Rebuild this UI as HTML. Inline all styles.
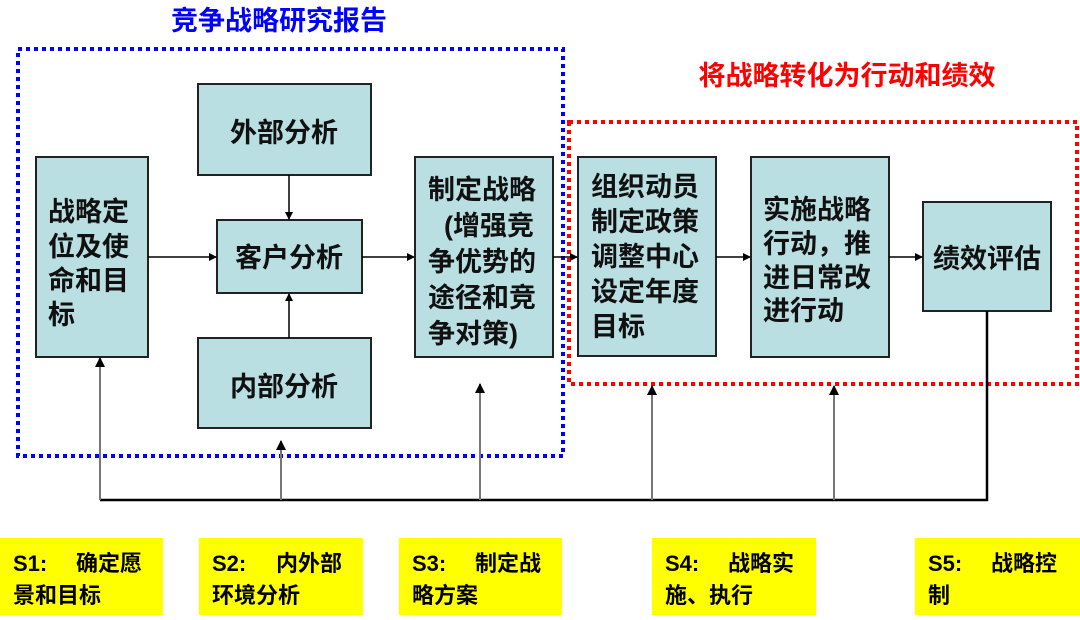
<!DOCTYPE html>
<html><head><meta charset="utf-8"><style>
body{margin:0;background:#fff}
svg text{font-family:"Liberation Sans","Noto Sans CJK SC",sans-serif;font-weight:bold}
</style></head><body>
<svg width="1080" height="615" viewBox="0 0 1080 615" xmlns="http://www.w3.org/2000/svg">
<defs><marker id="a" markerWidth="8" markerHeight="8" refX="7" refY="4" orient="auto" markerUnits="userSpaceOnUse"><path d="M0,0 L8,4 L0,8 z" fill="#000"/></marker>
<marker id="g" markerWidth="10" markerHeight="10" refX="9" refY="5" orient="auto" markerUnits="userSpaceOnUse"><path d="M0,0 L10,5 L0,10 z" fill="#000"/></marker></defs>
<text x="279" y="30" font-size="27" fill="#0000ff" text-anchor="middle">竞争战略研究报告</text>
<text x="847" y="85" font-size="27" fill="#ff0000" text-anchor="middle">将战略转化为行动和绩效</text>
<rect x="18" y="49" width="545" height="407" fill="none" stroke="#0000ff" stroke-width="4" stroke-dasharray="4,4"/>
<rect x="569" y="122" width="508" height="262" fill="none" stroke="#ff0000" stroke-width="4" stroke-dasharray="4,4"/>
<g fill="#b9dfe2" stroke="#222" stroke-width="2">
<rect x="36" y="157" width="112" height="200"/>
<rect x="198" y="84" width="173" height="91"/>
<rect x="217" y="220" width="145" height="73"/>
<rect x="198" y="338" width="173" height="90"/>
<rect x="415" y="157" width="138" height="200"/>
<rect x="578" y="157" width="138" height="199"/>
<rect x="751" y="157" width="138" height="200"/>
<rect x="923" y="202" width="128" height="109"/>
</g>
<g font-size="27" fill="#111">
<text x="48" y="221">战略定</text><text x="48" y="256">位及使</text><text x="48" y="290">命和目</text><text x="48" y="324">标</text>
<text x="284" y="142" text-anchor="middle">外部分析</text>
<text x="289" y="267" text-anchor="middle">客户分析</text>
<text x="284" y="396" text-anchor="middle">内部分析</text>
<text x="428" y="199">制定战略</text><text x="444" y="235">(增强竞</text><text x="428" y="271">争优势的</text><text x="428" y="307">途径和竞</text><text x="428" y="343">争对策)</text>
<text x="591" y="196">组织动员</text><text x="591" y="231">制定政策</text><text x="591" y="266">调整中心</text><text x="591" y="301">设定年度</text><text x="591" y="336">目标</text>
<text x="763" y="219">实施战略</text><text x="763" y="253">行动，推</text><text x="763" y="287">进日常改</text><text x="763" y="320">进行动</text>
<text x="987" y="268" text-anchor="middle">绩效评估</text>
</g>
<g stroke="#000" stroke-width="1.5" fill="none" marker-end="url(#a)">
<line x1="148" y1="257" x2="216" y2="257"/>
<line x1="362" y1="257" x2="414" y2="257"/>
<line x1="553" y1="257" x2="577" y2="257"/>
<line x1="716" y1="257" x2="750" y2="257"/>
<line x1="889" y1="257" x2="922" y2="257"/>
<line x1="289" y1="175" x2="289" y2="219"/>
<line x1="289" y1="338" x2="289" y2="294"/>
</g>
<polyline points="987,311 987,500 100,500" fill="none" stroke="#000" stroke-width="2.5"/>
<g stroke="#777" stroke-width="2" marker-end="url(#g)">
<line x1="100" y1="500" x2="100" y2="358"/>
<line x1="281" y1="500" x2="281" y2="441"/>
<line x1="480" y1="500" x2="480" y2="384"/>
<line x1="652" y1="500" x2="652" y2="386"/>
<line x1="834" y1="500" x2="834" y2="386"/>
</g>
<g fill="#ffff00">
<rect x="0" y="538" width="163" height="77"/><rect x="199" y="538" width="164" height="77"/><rect x="399" y="538" width="163" height="77"/><rect x="652" y="538" width="164" height="77"/><rect x="915" y="538" width="165" height="77"/>
</g>
<g font-size="22" fill="#000">
<text x="13" y="571">S1:</text><text x="76" y="571">确定愿</text><text x="13" y="603">景和目标</text>
<text x="212" y="571">S2:</text><text x="276" y="571">内外部</text><text x="212" y="603">环境分析</text>
<text x="412" y="571">S3:</text><text x="475" y="571">制定战</text><text x="412" y="603">略方案</text>
<text x="665" y="571">S4:</text><text x="728" y="571">战略实</text><text x="665" y="603">施、执行</text>
<text x="928" y="571">S5:</text><text x="991" y="571">战略控</text><text x="928" y="603">制</text>
</g>
</svg>
</body></html>
